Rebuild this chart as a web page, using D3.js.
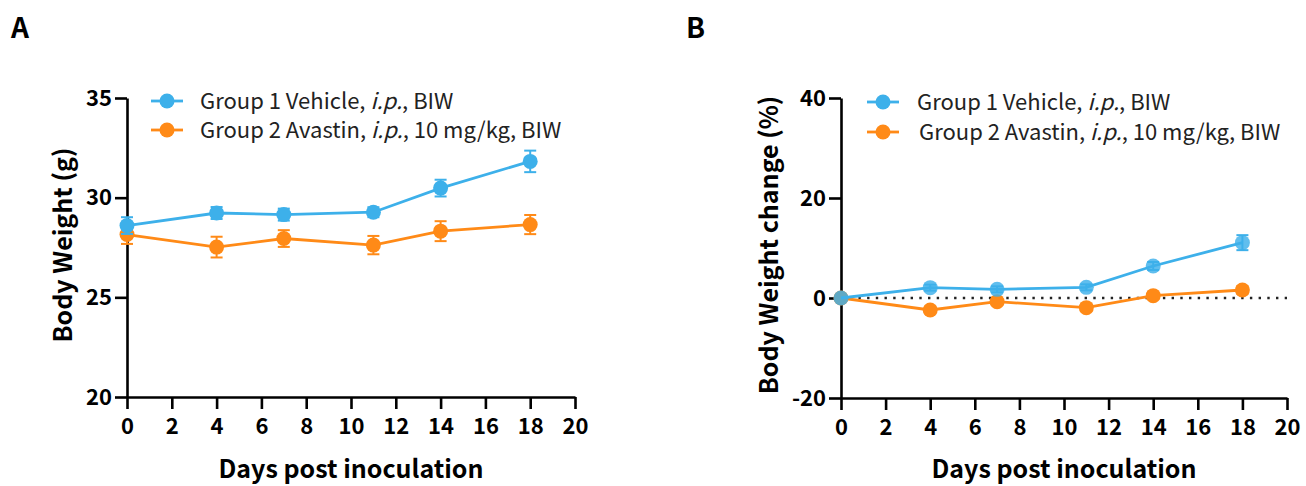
<!DOCTYPE html>
<html>
<head>
<meta charset="utf-8">
<script src="https://cdn.jsdelivr.net/npm/d3@7"></script>
<style>
  body { margin: 0; background: #fff; }
  text { font-family: "Noto Sans CJK SC", Lato, sans-serif; }
</style>
</head>
<body>
<div id="chart"></div>
<script>
// days post inoculation
var days = [0, 4, 7, 11, 14, 18];
var xTicks = [0, 2, 4, 6, 8, 10, 12, 14, 16, 18, 20];

var seriesNames = ["Group 1 Vehicle, ", "Group 2 Avastin, "];
var seriesTails = [", BIW", ", 10 mg/kg, BIW"];

// panel A - body weight (g), mean and SEM
var weightG1 = [28.6, 29.23, 29.15, 29.27, 30.48, 31.82];
var weightG1Err = [0.42, 0.3, 0.3, 0.25, 0.42, 0.54];
var weightG2 = [28.15, 27.52, 27.95, 27.62, 28.32, 28.65];
var weightG2Err = [0.47, 0.52, 0.42, 0.46, 0.5, 0.48];
var weightTicks = [20, 25, 30, 35];

// panel B - body weight change (%), mean and SEM
var changeG1 = [0, 2.07, 1.73, 2.13, 6.4, 11.07];
var changeG1Err = [0, 0.6, 0.6, 0.6, 0.8, 1.5];
var changeG2 = [0, -2.4, -0.73, -1.93, 0.47, 1.6];
var changeG2Err = [0, 0.7, 0.6, 0.7, 0.7, 0.8];
var changeTicks = [-20, 0, 20, 40];

var colors = ["#3db0ea", "#ff8a17"];

var svg = d3.select("#chart").append("svg")
  .attr("width", 1306)
  .attr("height", 486);

function drawPanel(opts) {
  var g = svg.append("g");

  var x = d3.scaleLinear().domain([0, 20]).range([opts.left, opts.right]);
  var y = d3.scaleLinear().domain(opts.yDomain).range([opts.bottom, opts.top]);

  // panel letter
  g.append("text")
    .attr("x", opts.letterX)
    .attr("y", 38)
    .style("font-size", "28px")
    .style("font-weight", "bold")
    .text(opts.letter);

  // zero reference line
  if (opts.zeroLine) {
    g.append("line")
      .attr("x1", x(0)).attr("x2", x(20))
      .attr("y1", y(0)).attr("y2", y(0))
      .attr("stroke", "#222")
      .attr("stroke-width", 2.6)
      .attr("stroke-dasharray", "2.4,6.3");
  }

  // axes (plain hyphen for negatives, like the original)
  var fmt = function(d) { return String(d); };
  var yAxis = g.append("g")
    .attr("transform", "translate(" + opts.left + ",0)")
    .call(d3.axisLeft(y).tickValues(opts.yTicks).tickFormat(fmt).tickSize(12).tickSizeOuter(0).tickPadding(3));
  var xAxis = g.append("g")
    .attr("transform", "translate(0," + opts.bottom + ")")
    .call(d3.axisBottom(x).tickValues(xTicks).tickFormat(fmt).tickSize(12).tickSizeOuter(0).tickPadding(9));

  [yAxis, xAxis].forEach(function(a) {
    a.selectAll("path, line").attr("stroke", "#000").attr("stroke-width", 2.6);
    a.selectAll("text")
      .attr("fill", "#000")
      .style("font-size", "22px")
      .style("font-weight", "bold")
      .style("font-family", "'Noto Sans CJK SC', Lato, sans-serif");
  });

  // axis titles
  g.append("text")
    .attr("x", (opts.left + opts.right) / 2)
    .attr("y", 478)
    .attr("text-anchor", "middle")
    .style("font-size", "25px")
    .style("font-weight", "bold")
    .text("Days post inoculation");

  g.append("text")
    .attr("transform", "translate(" + opts.yTitleX + "," + opts.yTitleY + ") rotate(-90)")
    .attr("text-anchor", "middle")
    .style("font-size", "25px")
    .style("font-weight", "bold")
    .text(opts.yTitle);

  var line = d3.line()
    .x(function(d) { return x(d.day); })
    .y(function(d) { return y(d.value); });

  // draw orange first then blue (reverse order)
  [1, 0].forEach(function(si) {
    var s = opts.series[si];
    var pts = days.map(function(d, i) {
      return { day: d, value: s.values[i], err: s.errors[i] };
    });
    var sg = g.append("g");

    sg.append("path")
      .datum(pts)
      .attr("fill", "none")
      .attr("stroke", colors[si])
      .attr("stroke-width", 2.8)
      .attr("d", line);

    var eb = sg.selectAll(".eb").data(pts.filter(function(d) { return d.err > 0; }))
      .join("g")
      .attr("stroke", colors[si])
      .attr("stroke-width", 2);
    eb.append("line")
      .attr("x1", function(d) { return x(d.day); })
      .attr("x2", function(d) { return x(d.day); })
      .attr("y1", function(d) { return y(d.value - d.err); })
      .attr("y2", function(d) { return y(d.value + d.err); });
    eb.append("line")
      .attr("x1", function(d) { return x(d.day) - 6; })
      .attr("x2", function(d) { return x(d.day) + 6; })
      .attr("y1", function(d) { return y(d.value + d.err); })
      .attr("y2", function(d) { return y(d.value + d.err); });
    eb.append("line")
      .attr("x1", function(d) { return x(d.day) - 6; })
      .attr("x2", function(d) { return x(d.day) + 6; })
      .attr("y1", function(d) { return y(d.value - d.err); })
      .attr("y2", function(d) { return y(d.value - d.err); });

    sg.selectAll("circle").data(pts)
      .join("circle")
      .attr("cx", function(d) { return x(d.day); })
      .attr("cy", function(d) { return y(d.value); })
      .attr("r", 7.5)
      .attr("fill", colors[si])
      .attr("fill-opacity", opts.blend && si == 0 ? 0.82 : 1);
  });

  // legend
  seriesNames.forEach(function(name, i) {
    var ly = opts.legendY[i];
    var lg = g.append("g");
    lg.append("line")
      .attr("x1", opts.legendX - 16).attr("x2", opts.legendX + 16)
      .attr("y1", ly).attr("y2", ly)
      .attr("stroke", colors[i])
      .attr("stroke-width", 2.8);
    lg.append("circle")
      .attr("cx", opts.legendX).attr("cy", ly).attr("r", 7.5)
      .attr("fill", colors[i]);
    var t = lg.append("text")
      .attr("x", opts.legendTextX[i])
      .attr("y", ly + 8)
      .attr("fill", "#222")
      .style("font-size", "22px");
    t.append("tspan").text(name);
    t.append("tspan").style("font-style", "italic").text("i.p.");
    t.append("tspan").text(seriesTails[i]);
  });
}

drawPanel({
  letter: "A", letterX: 11,
  left: 127, right: 575, top: 98, bottom: 397,
  yDomain: [20, 35], yTicks: weightTicks,
  yTitle: "Body Weight (g)", yTitleX: 72, yTitleY: 245,
  legendX: 167, legendTextX: [200, 200], legendY: [101, 130],
  series: [
    { values: weightG1, errors: weightG1Err },
    { values: weightG2, errors: weightG2Err }
  ]
});

drawPanel({
  letter: "B", letterX: 686,
  left: 841, right: 1287, top: 98, bottom: 398,
  yDomain: [-20, 40], yTicks: changeTicks,
  yTitle: "Body Weight change (%)", yTitleX: 778, yTitleY: 245,
  legendX: 883, legendTextX: [917, 919], legendY: [102, 132],
  zeroLine: true, blend: true,
  series: [
    { values: changeG1, errors: changeG1Err },
    { values: changeG2, errors: changeG2Err }
  ]
});
</script>
</body>
</html>
